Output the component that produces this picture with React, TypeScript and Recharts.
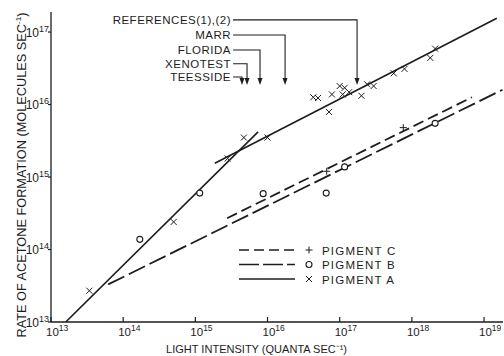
import {
  ComposedChart,
  Line,
  Scatter,
  XAxis,
  YAxis,
  ReferenceLine,
  Legend,
} from "recharts";

const FONT = "'Liberation Sans', Arial, sans-serif";
const INK = "#1d1d1d";

// Light intensity (quanta/s) vs rate of acetone formation (molecules/s)
const pigmentAIntensity = [
  3.4e13, 5.0e14, 2.8e15, 4.7e15, 1.0e16, 4.3e16, 5.0e16, 7.1e16, 7.8e16, 1.0e17,
  1.1e17, 1.17e17, 1.35e17, 2.0e17, 2.4e17, 2.95e17, 5.6e17, 7.9e17, 1.8e18, 2.1e18,
];
const pigmentARate = [
  2.7e13, 2.4e14, 1.8e15, 3.5e15, 3.5e15, 1.26e16, 1.23e16, 7.9e15, 1.38e16, 1.8e16,
  1.38e16, 1.7e16, 1.48e16, 1.32e16, 1.9e16, 1.8e16, 2.7e16, 3.1e16, 4.4e16, 5.9e16,
];
const pigmentBIntensity = [1.7e14, 1.15e15, 8.7e15, 6.5e16, 1.17e17, 2.1e18];
const pigmentBRate = [1.38e14, 6.0e14, 5.9e14, 6.0e14, 1.38e15, 5.5e15];
const pigmentCIntensity = [6.6e16, 7.6e17];
const pigmentCRate = [1.2e15, 4.8e15];

// fitted lines (end points)
const fitA1Intensity = [1.6e13, 7.4e15];
const fitA1Rate = [1.0e13, 4.2e15];
const fitA2Intensity = [1.86e15, 1.5e19];
const fitA2Rate = [1.55e15, 1.55e17];
const fitBIntensity = [6.2e13, 1.8e19];
const fitBRate = [3.3e13, 1.6e16];
const fitCIntensity = [2.75e15, 6.8e18];
const fitCRate = [2.7e14, 1.26e16];

// site markers along the top
const siteLabels = ["REFERENCES(1),(2)", "MARR", "FLORIDA", "XENOTEST", "TEESSIDE"];
const siteIntensity = [1.74e17, 1.75e16, 7.87e15, 5.2e15, 4.43e15];
const siteLabelRate = [1.47e17, 9.1e16, 5.65e16, 3.65e16, 2.4e16];
const leaderStartIntensity = 3.33e15;
const arrowTipRate = 1.86e16;

const xTicks = [1e13, 1e14, 1e15, 1e16, 1e17, 1e18, 1e19];
const yTicks = [1e13, 1e14, 1e15, 1e16, 1e17];
const xMax = 1.83e19;
const yMax = 1.89e17;

const pts = (xs: number[], ys: number[]) => xs.map((x, i) => ({ x, y: ys[i] }));

const XMark = ({ cx, cy }: any) => (
  <g stroke={INK} strokeWidth={1}>
    <line x1={cx - 3} y1={cy - 3} x2={cx + 3} y2={cy + 3} />
    <line x1={cx - 3} y1={cy + 3} x2={cx + 3} y2={cy - 3} />
  </g>
);
const OMark = ({ cx, cy }: any) => (
  <circle cx={cx} cy={cy} r={3} fill="#fff" stroke={INK} strokeWidth={1.1} />
);
const PlusMark = ({ cx, cy }: any) => (
  <g stroke={INK} strokeWidth={1}>
    <line x1={cx - 3.5} y1={cy} x2={cx + 3.5} y2={cy} />
    <line x1={cx} y1={cy - 3.5} x2={cx} y2={cy + 3.5} />
  </g>
);

const XTick = ({ x, y, payload }: any) => {
  const exp = Math.round(Math.log10(payload.value));
  return (
    <g>
      <line x1={x} x2={x} y1={y} y2={y - 5} stroke={INK} strokeWidth={1.2} />
      <text x={x - 5} y={y + 13.5} fill={INK} fontSize={11.5} fontFamily={FONT}>
        10
        <tspan dy={-5} fontSize={8.5}>
          {exp}
        </tspan>
      </text>
    </g>
  );
};

const YTick = ({ x, y, payload }: any) => {
  const exp = Math.round(Math.log10(payload.value));
  return (
    <g>
      <line x1={x - 3} x2={x} y1={y} y2={y} stroke={INK} strokeWidth={1.2} />
      <text x={x - 2} y={y + 4.5} textAnchor="end" fill={INK} fontSize={12} fontFamily={FONT}>
        10
        <tspan dy={-5} fontSize={9}>
          {exp}
        </tspan>
      </text>
    </g>
  );
};

const XTitle = () => (
  <text x={166} y={353} fill={INK} fontSize={11.5} fontFamily={FONT} textLength={181} lengthAdjust="spacingAndGlyphs">
    LIGHT INTENSITY (QUANTA SEC⁻¹)
  </text>
);

const YTitle = () => (
  <text
    transform="translate(26,175) rotate(-90)"
    x={0}
    y={0}
    textAnchor="middle"
    fill={INK}
    fontSize={12.5}
    fontFamily={FONT}
    textLength={325}
    lengthAdjust="spacingAndGlyphs"
  >
    RATE OF ACETONE FORMATION (MOLECULES SEC
    <tspan dy={-5} fontSize={8}>
      -1
    </tspan>
    <tspan dy={5}>)</tspan>
  </text>
);

// elbow leader: label, horizontal run, drop down to an arrowhead
const leader = (label: string) => (props: any) => {
  const { x1, y1, x2, y2 } = props;
  return (
    <g>
      <text
        x={x1 - 2}
        y={y1 + 4}
        textAnchor="end"
        fill={INK}
        fontSize={11.5}
        letterSpacing={0.5}
        fontFamily={FONT}
      >
        {label}
      </text>
      <path d={`M${x1},${y1}H${x2}V${y2 - 5}`} fill="none" stroke={INK} strokeWidth={1.1} />
      <path d={`M${x2 - 2.5},${y2 - 7}L${x2 + 2.5},${y2 - 7}L${x2},${y2}Z`} fill={INK} />
    </g>
  );
};

const legendRows = [
  { name: "PIGMENT C", dash: "10 5", Mark: PlusMark },
  { name: "PIGMENT B", dash: "20 4", Mark: OMark },
  { name: "PIGMENT A", dash: undefined, Mark: XMark },
];

const LegendBox = () => (
  <svg width={170} height={46} style={{ display: "block" }}>
    {legendRows.map((r, i) => {
      const cy = 9 + i * 14.5;
      return (
        <g key={r.name}>
          <line x1={3} x2={59} y1={cy} y2={cy} stroke={INK} strokeWidth={1.6} strokeDasharray={r.dash} />
          <r.Mark cx={73} cy={cy} />
          <text x={86} y={cy + 4.5} fill={INK} fontSize={11.5} letterSpacing={1.2} fontFamily={FONT}>
            {r.name}
          </text>
        </g>
      );
    })}
  </svg>
);

export default function App() {
  return (
    <div style={{ position: "absolute", left: 0, top: 0, width: 504, height: 356, background: "#fff" }}>
      <ComposedChart width={504} height={356} margin={{ top: 12, right: 1, bottom: 0, left: 0 }}>
        <XAxis
          dataKey="x"
          type="number"
          scale="log"
          domain={[1e13, xMax]}
          allowDataOverflow
          ticks={xTicks}
          interval={0}
          height={34}
          tickSize={0}
          tickMargin={0}
          tickLine={false}
          axisLine={{ stroke: INK, strokeWidth: 1.3 }}
          tick={<XTick />}
          label={<XTitle />}
        />
        <YAxis
          dataKey="y"
          type="number"
          scale="log"
          domain={[1e13, yMax]}
          allowDataOverflow
          ticks={yTicks}
          interval={0}
          width={51}
          tickSize={0}
          tickMargin={0}
          tickLine={false}
          axisLine={{ stroke: INK, strokeWidth: 1.3 }}
          tick={<YTick />}
          label={<YTitle />}
        />

        <Line data={pts(fitA1Intensity, fitA1Rate)} dataKey="y" stroke={INK} strokeWidth={1.6} dot={false} isAnimationActive={false} />
        <Line data={pts(fitA2Intensity, fitA2Rate)} dataKey="y" stroke={INK} strokeWidth={1.6} dot={false} isAnimationActive={false} />
        <Line data={pts(fitBIntensity, fitBRate)} dataKey="y" stroke={INK} strokeWidth={1.8} strokeDasharray="18 5" dot={false} isAnimationActive={false} />
        <Line data={pts(fitCIntensity, fitCRate)} dataKey="y" stroke={INK} strokeWidth={1.8} strokeDasharray="11 5" dot={false} isAnimationActive={false} />

        <Scatter data={pts(pigmentAIntensity, pigmentARate)} shape={(p: any) => <XMark cx={p.cx} cy={p.cy} />} isAnimationActive={false} />
        <Scatter data={pts(pigmentBIntensity, pigmentBRate)} shape={(p: any) => <OMark cx={p.cx} cy={p.cy} />} isAnimationActive={false} />
        <Scatter data={pts(pigmentCIntensity, pigmentCRate)} shape={(p: any) => <PlusMark cx={p.cx} cy={p.cy} />} isAnimationActive={false} />

        {siteLabels.map((label, i) => (
          <ReferenceLine
            key={label}
            segment={[
              { x: leaderStartIntensity, y: siteLabelRate[i] },
              { x: siteIntensity[i], y: arrowTipRate },
            ]}
            shape={leader(label)}
          />
        ))}

        <Legend
          layout="horizontal"
          verticalAlign="middle"
          align="center"
          content={() => <LegendBox />}
          wrapperStyle={{ position: "absolute", left: 236, top: 241, width: 170, height: 46 }}
        />
      </ComposedChart>
    </div>
  );
}
